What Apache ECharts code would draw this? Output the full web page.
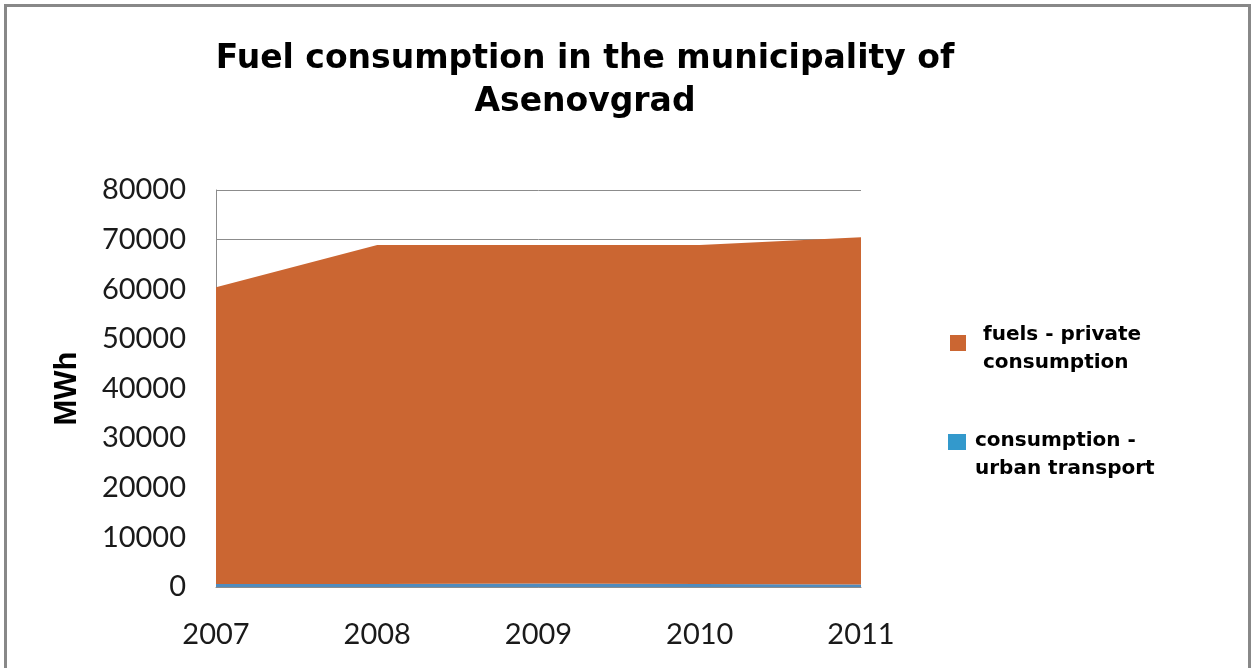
<!DOCTYPE html>
<html>
<head>
<meta charset="utf-8">
<title>Fuel consumption in the municipality of Asenovgrad</title>
<script src="https://cdn.jsdelivr.net/npm/echarts@6/dist/echarts.min.js"></script>
<style>
  html, body { margin: 0; padding: 0; background: #ffffff; }
  #chart { width: 1254px; height: 668px; }
</style>
</head>
<body>
<div id="chart"></div>
<script>
// Annual fuel consumption, MWh
const years = ['2007', '2008', '2009', '2010', '2011'];
const urbanTransport = [600, 600, 700, 600, 500];
const privateFuels = [59800, 68300, 68200, 68300, 70000];

const seriesNames = ['consumption - urban transport', 'fuels - private consumption'];
const legendLines = {
  'fuels - private consumption': ['fuels - private', 'consumption'],
  'consumption - urban transport': ['consumption -', 'urban transport']
};

const titleText = 'Fuel consumption in the municipality of\nAsenovgrad';
const yAxisTitle = 'MWh';
const yTicks = { min: 0, max: 80000, interval: 10000 };

const ORANGE = '#CB6632';
const BLUE = '#3399CC';
const BLUE_AREA = '#4F8CBE';
const GRID_GREY = '#8C8C8C';
const TICK_FONT = 'Lato, "Liberation Sans", sans-serif';
const BOLD_FONT = '"DejaVu Sans", Verdana, sans-serif';

// two-line legend label; the first line's box is taller so the swatch
// sits level with the upper line rather than between the two
function legendText(firstLineHeight, secondLineHeight, padLeft) {
  const base = { fontFamily: BOLD_FONT, fontWeight: 'bold', fontSize: 20, color: '#000000' };
  return {
    formatter: n => '{a|' + legendLines[n][0] + '}\n{b|' + legendLines[n][1] + '}',
    textStyle: {
      ...base,
      padding: [0, 0, 0, padLeft],
      rich: {
        a: { ...base, lineHeight: firstLineHeight },
        b: { ...base, lineHeight: secondLineHeight }
      }
    }
  };
}

const chart = echarts.init(document.getElementById('chart'));

chart.setOption({
  animation: false,
  backgroundColor: '#ffffff',
  title: {
    text: titleText,
    left: 580,
    top: 33,
    textAlign: 'center',
    textStyle: {
      fontFamily: BOLD_FONT,
      fontWeight: 'bold',
      fontSize: 33,
      lineHeight: 43,
      color: '#000000'
    }
  },
  graphic: [{
    type: 'rect',
    silent: true,
    shape: { x: 5.5, y: 5.5, width: 1244, height: 720 },
    style: { fill: 'none', stroke: '#888888', lineWidth: 3 }
  }],
  legend: [
    {
      data: [seriesNames[1]],
      left: 950,
      top: 325,
      padding: 0,
      icon: 'rect',
      itemWidth: 16,
      itemHeight: 16,
      ...legendText(40, 16, 12)
    },
    {
      data: [seriesNames[0]],
      left: 948,
      top: 431,
      padding: 0,
      icon: 'rect',
      itemWidth: 18,
      itemHeight: 16,
      ...legendText(54, 2, 4)
    }
  ],
  grid: {
    left: 216,
    right: 393,
    top: 190,
    bottom: 81,
    containLabel: false
  },
  xAxis: {
    type: 'category',
    data: years,
    boundaryGap: false,
    axisLine: { show: true, lineStyle: { color: GRID_GREY, width: 1 } },
    axisTick: { show: false },
    axisLabel: {
      margin: 33,
      fontFamily: TICK_FONT,
      fontSize: 29,
      color: '#1a1a1a'
    },
    splitLine: { show: false }
  },
  yAxis: {
    type: 'value',
    min: yTicks.min,
    max: yTicks.max,
    interval: yTicks.interval,
    name: yAxisTitle,
    nameLocation: 'middle',
    nameRotate: 90,
    nameGap: 133,
    nameTextStyle: {
      fontFamily: '"Liberation Sans", Arial, sans-serif',
      fontWeight: 'bold',
      fontSize: 31,
      color: '#000000'
    },
    axisLine: { show: true, lineStyle: { color: GRID_GREY, width: 1 } },
    axisTick: { show: false },
    axisLabel: {
      margin: 30,
      fontFamily: TICK_FONT,
      fontSize: 29,
      color: '#1a1a1a',
      formatter: v => String(v)
    },
    splitLine: { show: true, lineStyle: { color: GRID_GREY, width: 1 } }
  },
  series: [
    {
      name: seriesNames[0],
      type: 'line',
      stack: 'fuel',
      data: urbanTransport,
      showSymbol: false,
      symbol: 'none',
      color: BLUE,
      lineStyle: { width: 0 },
      areaStyle: { color: BLUE_AREA, opacity: 1 }
    },
    {
      name: seriesNames[1],
      type: 'line',
      stack: 'fuel',
      data: privateFuels,
      showSymbol: false,
      symbol: 'none',
      color: ORANGE,
      lineStyle: { width: 0 },
      areaStyle: { color: ORANGE, opacity: 1 }
    }
  ]
});
</script>
</body>
</html>
